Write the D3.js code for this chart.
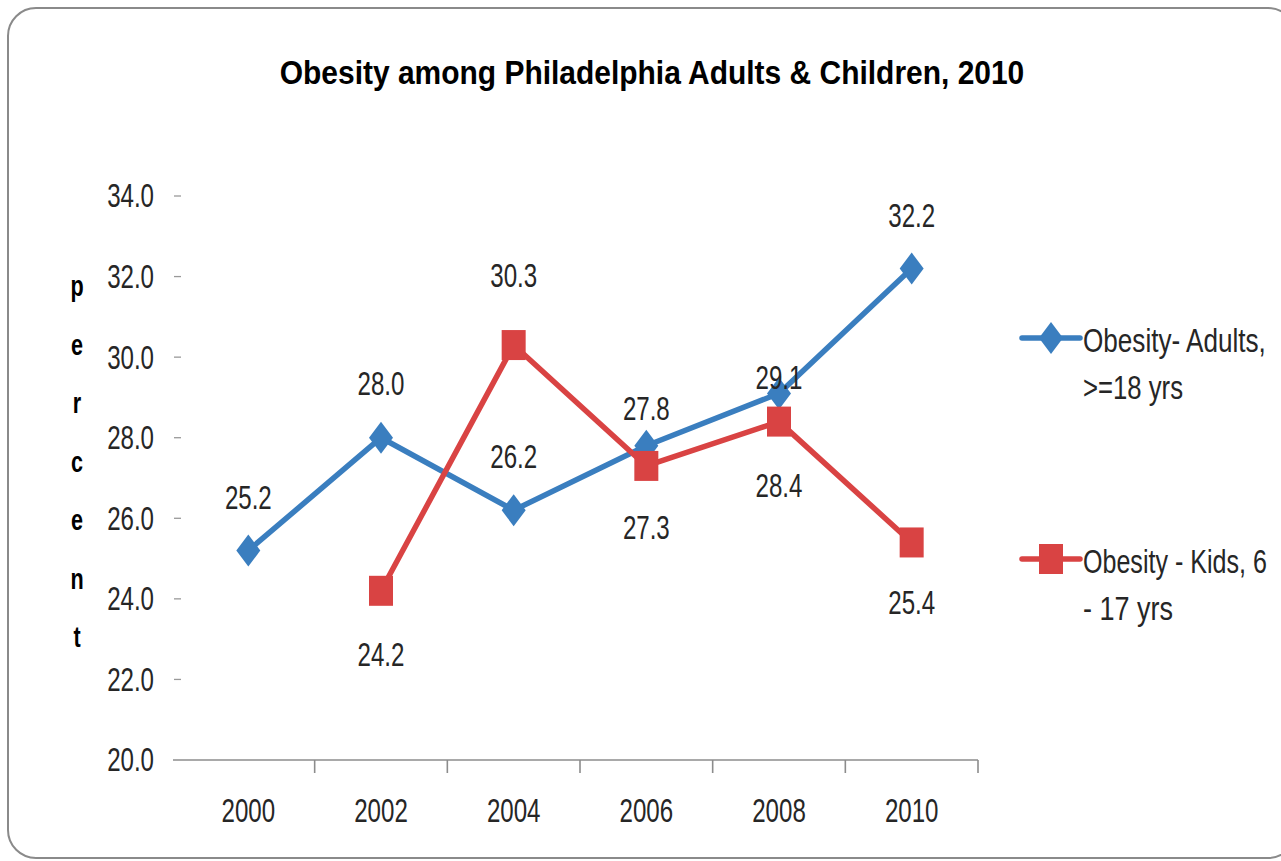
<!DOCTYPE html>
<html>
<head>
<meta charset="utf-8">
<script src="https://cdn.jsdelivr.net/npm/d3@7"></script>
<style>
  html, body { margin: 0; padding: 0; background: #fff; }
  svg { display: block; }
</style>
</head>
<body>
<svg id="chart" width="1281" height="861"></svg>
<script>
// ---------- data ----------
const years = ["2000", "2002", "2004", "2006", "2008", "2010"];
const adults = [25.2, 28.0, 26.2, 27.8, 29.1, 32.2];
const kids = [null, 24.2, 30.3, 27.3, 28.4, 25.4];
const yTicks = [20, 22, 24, 26, 28, 30, 32, 34];
const seriesNames = [["Obesity- Adults,", ">=18 yrs"], ["Obesity - Kids, 6", "- 17 yrs"]];
const titleText = "Obesity among Philadelphia  Adults & Children, 2010";
const yAxisTitle = "percent";

// ---------- layout / style ----------
const FONT = "'Liberation Sans', 'Arial', sans-serif";
const SX = 0.86, SY = 1.2; // condensed, vertically stretched text as in the reference
const blue = "#3A7EBF";
const red = "#D94343";
// label offsets (px) relative to each marker, as placed in the reference
const adultLabelDy = [-53, -54, -54, -37, -16, -53];
const kidLabelDy = [0, 64, -70, 62, 64, 60];
const legendWidths = [[183, 100], [184, 90]];

const svg = d3.select("#chart");

const x = d3.scaleBand().domain(years).range([182, 978]);
const y = d3.scaleLinear().domain([20, 34]).range([760, 196]);
const cx = d => x(d) + x.bandwidth() / 2;

function addText(g, px, py, str, o = {}) {
  let sx = o.sx || SX;
  const sy = o.sy || SY;
  const t = g.append("text")
    .attr("text-anchor", o.anchor || "middle")
    .attr("dominant-baseline", o.baseline || "central")
    .attr("font-family", FONT)
    .attr("font-size", o.size || 28)
    .attr("font-weight", o.weight || "normal")
    .attr("fill", o.fill || "#262626")
    .text(str);
  if (o.width) {
    const len = t.node().getComputedTextLength();
    if (len > 0) sx = o.width / len;
  }
  t.attr("transform", `translate(${px},${py}) scale(${sx},${sy})`);
  return t;
}

// border
svg.append("rect")
  .attr("x", 8).attr("y", 8)
  .attr("width", 1288).attr("height", 850)
  .attr("rx", 28).attr("ry", 28)
  .attr("fill", "#fff")
  .attr("stroke", "#8a8a8a")
  .attr("stroke-width", 2);

// title
addText(svg, 652, 72, titleText, { size: 29, weight: "bold", fill: "#000", sy: 1.15, width: 745 });

// y axis (ticks + labels, no line)
const yAxis = svg.append("g");
yTicks.forEach(t => {
  if (t !== 20) {
    yAxis.append("line")
      .attr("x1", 174).attr("x2", 181)
      .attr("y1", y(t)).attr("y2", y(t))
      .attr("stroke", "#999").attr("stroke-width", 1.3);
  }
  addText(yAxis, 154, y(t), d3.format(".1f")(t), { anchor: "end" });
});

// y axis title (stacked letters)
yAxisTitle.split("").forEach((ch, i) => {
  addText(svg, 77, 296 + i * 58.5, ch, { size: 24, weight: "bold", fill: "#000", baseline: "alphabetic", sx: 0.9 });
});

// x axis line and ticks
const xAxis = svg.append("g");
xAxis.append("line")
  .attr("x1", 173).attr("x2", 978)
  .attr("y1", y(20)).attr("y2", y(20))
  .attr("stroke", "#8c8c8c").attr("stroke-width", 1.6);
years.forEach(yr => {
  const bx = x(yr) + x.bandwidth();
  xAxis.append("line")
    .attr("x1", bx).attr("x2", bx)
    .attr("y1", y(20)).attr("y2", y(20) + 13)
    .attr("stroke", "#8c8c8c").attr("stroke-width", 1.6);
  addText(xAxis, cx(yr), 811, yr);
});

// lines
const line = d3.line()
  .defined(d => d.v !== null)
  .x(d => cx(d.yr))
  .y(d => y(d.v));

const adultData = years.map((yr, i) => ({ yr, v: adults[i] }));
const kidData = years.map((yr, i) => ({ yr, v: kids[i] }));

// tall diamond (24 wide, 32 tall) and tall square (24 x 30)
const diamondPath = "M0,-16L12,0L0,16L-12,0Z";
function drawMarker(g, kind, px, py, color) {
  if (kind === "diamond") {
    g.append("path").attr("d", diamondPath)
      .attr("transform", `translate(${px},${py})`)
      .attr("fill", color);
  } else {
    g.append("rect")
      .attr("x", px - 12).attr("y", py - 15)
      .attr("width", 24).attr("height", 30)
      .attr("fill", color);
  }
}

function drawSeries(data, color, marker) {
  const g = svg.append("g");
  g.append("path")
    .attr("d", line(data))
    .attr("fill", "none")
    .attr("stroke", color)
    .attr("stroke-width", 5.5)
    .attr("stroke-linejoin", "round");
  data.filter(d => d.v !== null).forEach(d => drawMarker(g, marker, cx(d.yr), y(d.v), color));
  return g;
}

drawSeries(adultData, blue, "diamond");
drawSeries(kidData, red, "square");

// data labels
const labels = svg.append("g");
adultData.forEach((d, i) => {
  addText(labels, cx(d.yr), y(d.v) + adultLabelDy[i], d3.format(".1f")(d.v));
});
kidData.forEach((d, i) => {
  if (d.v === null) return;
  addText(labels, cx(d.yr), y(d.v) + kidLabelDy[i], d3.format(".1f")(d.v));
});

// legend
const legend = svg.append("g");
const legY = [338, 559];
const legColors = [blue, red];
const legMarkers = ["diamond", "square"];
seriesNames.forEach((nm, i) => {
  legend.append("line")
    .attr("x1", 1022).attr("x2", 1080)
    .attr("y1", legY[i]).attr("y2", legY[i])
    .attr("stroke", legColors[i]).attr("stroke-width", 5.5)
    .attr("stroke-linecap", "round");
  drawMarker(legend, legMarkers[i], 1051, legY[i], legColors[i]);
  nm.forEach((ln, j) => {
    addText(legend, 1083, legY[i] + 2 + j * 47, ln, { anchor: "start", width: legendWidths[i][j] });
  });
});
</script>
</body>
</html>
